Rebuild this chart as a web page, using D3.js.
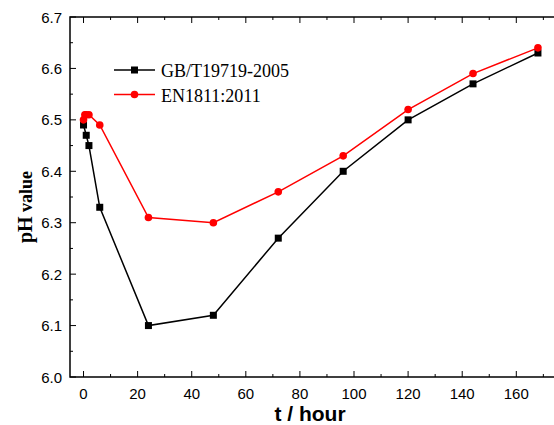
<!DOCTYPE html>
<html>
<head>
<meta charset="utf-8">
<script src="https://cdn.jsdelivr.net/npm/d3@7"></script>
<style>
  body { margin: 0; background: #fff; }
  svg { display: block; }
</style>
</head>
<body>
<div id="chart"></div>
<script>
// hours sampled for each standard
const gbHours = [0, 1, 2, 6, 24, 48, 72, 96, 120, 144, 168];
const gbValues = [6.49, 6.47, 6.45, 6.33, 6.10, 6.12, 6.27, 6.40, 6.50, 6.57, 6.63];
const enHours = [0, 0.5, 1, 2, 6, 24, 48, 72, 96, 120, 144, 168];
const enValues = [6.50, 6.51, 6.51, 6.51, 6.49, 6.31, 6.30, 6.36, 6.43, 6.52, 6.59, 6.64];
const xTicks = [0, 20, 40, 60, 80, 100, 120, 140, 160];
const yTicks = [6.0, 6.1, 6.2, 6.3, 6.4, 6.5, 6.6, 6.7];
const seriesNames = ["GB/T19719-2005", "EN1811:2011"];

const width = 554;
const height = 425;
const plotLeft = 70, plotTop = 17, plotBottom = 377;

const svg = d3.select("#chart")
  .append("svg")
  .attr("width", width)
  .attr("height", height);

const x = d3.scaleLinear().domain([-5, 180]).range([plotLeft, 570.4]);
const y = d3.scaleLinear().domain([6.0, 6.7]).range([plotBottom, plotTop]);

// frame: left, bottom and top (right edge is cut off)
svg.append("path")
  .attr("d", `M${width},${plotTop}H${plotLeft}V${plotBottom}H${width}`)
  .attr("fill", "none")
  .attr("stroke", "#000")
  .attr("stroke-width", 1.5);

const minorX = d3.range(10, 180, 20);
const minorY = d3.range(6.05, 6.7, 0.1);

// ticks point into the plot
const ticks = svg.append("g").attr("stroke", "#000").attr("stroke-width", 1);
xTicks.forEach(t => {
  ticks.append("line").attr("x1", x(t)).attr("x2", x(t)).attr("y1", plotBottom).attr("y2", plotBottom - 6);
  ticks.append("line").attr("x1", x(t)).attr("x2", x(t)).attr("y1", plotTop).attr("y2", plotTop + 6);
});
minorX.forEach(t => {
  ticks.append("line").attr("x1", x(t)).attr("x2", x(t)).attr("y1", plotBottom).attr("y2", plotBottom - 3);
  ticks.append("line").attr("x1", x(t)).attr("x2", x(t)).attr("y1", plotTop).attr("y2", plotTop + 3);
});
yTicks.forEach(t => {
  ticks.append("line").attr("x1", plotLeft).attr("x2", plotLeft + 6).attr("y1", y(t)).attr("y2", y(t));
});
minorY.forEach(t => {
  ticks.append("line").attr("x1", plotLeft).attr("x2", plotLeft + 3).attr("y1", y(t)).attr("y2", y(t));
});

// tick labels
svg.append("g")
  .selectAll("text")
  .data(xTicks)
  .join("text")
  .attr("x", d => x(d))
  .attr("y", 399)
  .attr("text-anchor", "middle")
  .attr("font-family", "Liberation Sans, Arial, sans-serif")
  .attr("font-size", 15)
  .text(d => d);

svg.append("g")
  .selectAll("text")
  .data(yTicks)
  .join("text")
  .attr("x", 62)
  .attr("y", d => y(d) + 5.5)
  .attr("text-anchor", "end")
  .attr("font-family", "Liberation Sans, Arial, sans-serif")
  .attr("font-size", 15)
  .text(d => d.toFixed(1));

// axis titles
svg.append("text")
  .attr("x", 310)
  .attr("y", 421)
  .attr("text-anchor", "middle")
  .attr("font-family", "Liberation Sans, Arial, sans-serif")
  .attr("font-weight", "bold")
  .attr("font-size", 21)
  .text("t / hour");

const yTitle = svg.append("text")
  .attr("transform", "translate(31.5,207) rotate(-90)")
  .attr("text-anchor", "middle")
  .attr("font-family", "Liberation Serif, Times New Roman, serif")
  .attr("font-weight", "bold");
yTitle.append("tspan").attr("font-size", 20).text("pH");
yTitle.append("tspan").attr("font-size", 18).text(" value");

// series
const line = d3.line().x(d => x(d[0])).y(d => y(d[1]));
const gbData = gbHours.map((h, i) => [h, gbValues[i]]);
const enData = enHours.map((h, i) => [h, enValues[i]]);

svg.append("path")
  .datum(gbData)
  .attr("d", line)
  .attr("fill", "none")
  .attr("stroke", "#000")
  .attr("stroke-width", 1.5);

svg.append("path")
  .datum(enData)
  .attr("d", line)
  .attr("fill", "none")
  .attr("stroke", "#f00")
  .attr("stroke-width", 1.5);

svg.append("g")
  .selectAll("rect")
  .data(gbData)
  .join("rect")
  .attr("x", d => x(d[0]) - 3.5)
  .attr("y", d => y(d[1]) - 3.5)
  .attr("width", 7)
  .attr("height", 7)
  .attr("fill", "#000");

svg.append("g")
  .selectAll("circle")
  .data(enData)
  .join("circle")
  .attr("cx", d => x(d[0]))
  .attr("cy", d => y(d[1]))
  .attr("r", 3.8)
  .attr("fill", "#f00");

// legend
const legend = svg.append("g").attr("font-family", "Liberation Serif, Times New Roman, serif").attr("font-size", 18);
const legendRows = [
  { name: seriesNames[0], color: "#000", shape: "square", yPos: 70 },
  { name: seriesNames[1], color: "#f00", shape: "circle", yPos: 94.5 }
];
legendRows.forEach(r => {
  legend.append("line")
    .attr("x1", 114).attr("x2", 155)
    .attr("y1", r.yPos).attr("y2", r.yPos)
    .attr("stroke", r.color).attr("stroke-width", 1.5);
  if (r.shape === "square") {
    legend.append("rect").attr("x", 131).attr("y", r.yPos - 3.5).attr("width", 7).attr("height", 7).attr("fill", r.color);
  } else {
    legend.append("circle").attr("cx", 134.5).attr("cy", r.yPos).attr("r", 3.8).attr("fill", r.color);
  }
  legend.append("text")
    .attr("x", 161)
    .attr("y", r.yPos + 7)
    .text(r.name);
});
</script>
</body>
</html>
